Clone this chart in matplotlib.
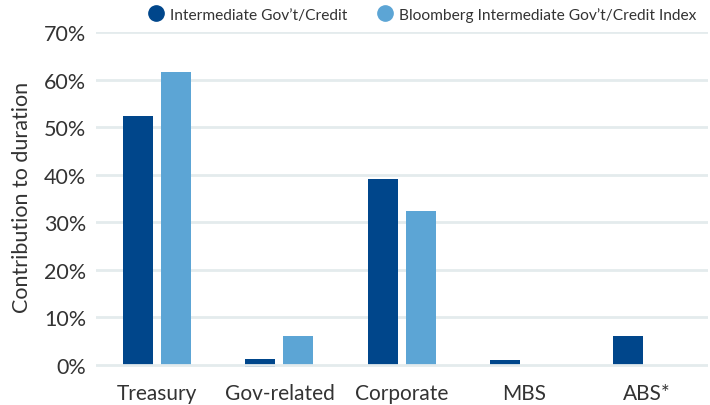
import matplotlib
matplotlib.use("Agg")
import matplotlib.pyplot as plt
import numpy as np
from matplotlib.lines import Line2D

categories = ["Treasury", "Gov-related", "Corporate", "MBS", "ABS*"]
fund = [52.4, 1.3, 39.1, 1.0, 6.1]
fund_negative = [0.0, -0.4, 0.0, 0.0, 0.0]
index = [61.6, 6.1, 32.4, 0.0, 0.0]
series_names = ["Intermediate Gov\u2019t/Credit", "Bloomberg Intermediate Gov\u2019t/Credit Index"]
yticks = [0, 10, 20, 30, 40, 50, 60, 70]

dark = "#00468B"
light = "#5CA5D5"
grid_c = "#E4EBED"
text_c = "#333333"

plt.rcParams['font.family'] = ['Lato', 'DejaVu Sans']

fig = plt.figure(figsize=(7.1, 4.06), dpi=100)
ax = fig.add_axes([0.135, 0.0926, 0.862, 0.826])

x = np.arange(len(categories))
w = 0.245
off = 0.155
ax.bar(x - off, fund, w, color=dark, zorder=2)
ax.bar(x - off, fund_negative, w, color=dark, zorder=2)
ax.bar(x + off, index, w, color=light, zorder=2)

ax.set_xlim(-0.5, 4.5)
ax.set_ylim(-0.5, 70)
ax.set_yticks(yticks)
ax.set_yticklabels([f"{v}%" for v in yticks])
for v in yticks[1:]:
    ax.axhline(v, color=grid_c, lw=2, zorder=1)
ax.axhline(0, color=grid_c, lw=2, zorder=3)

ax.set_xticks(x)
ax.set_xticklabels(categories)
ax.tick_params(axis='both', length=0, colors=text_c)
ax.tick_params(axis='x', pad=11, labelsize=15)
ax.tick_params(axis='y', pad=7, labelsize=15.5)
for s in ax.spines.values():
    s.set_visible(False)

ax.set_ylabel("Contribution to duration", fontsize=15.5, color=text_c, labelpad=10)
ax.yaxis.set_label_coords(-0.104, 0.51)

handles = [Line2D([], [], marker='o', ls='none', color=dark, markersize=11),
           Line2D([], [], marker='o', ls='none', color=light, markersize=11)]
leg = fig.legend(handles, series_names, loc='center right', bbox_to_anchor=(1.0, 0.962),
                 ncol=2, frameon=False, fontsize=11.2, handletextpad=0.4,
                 columnspacing=1.9, handlelength=1.0)
for t in leg.get_texts():
    t.set_color(text_c)

fig.savefig("out.png", dpi=100)
